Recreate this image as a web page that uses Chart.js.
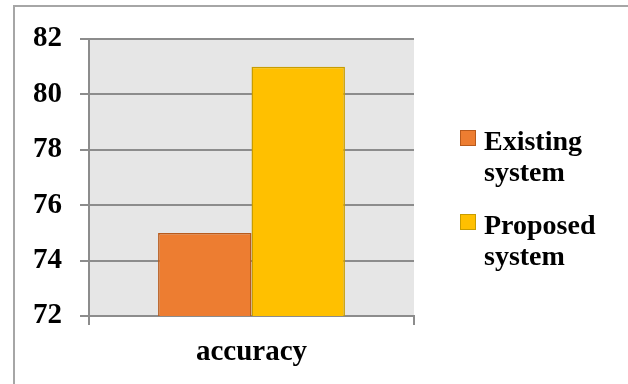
<!DOCTYPE html>
<html>
<head>
<meta charset="utf-8">
<script src="https://cdn.jsdelivr.net/npm/chart.js@4"></script>
<style>
  html, body { margin: 0; padding: 0; background: #ffffff; }
  #wrap { width: 628px; height: 384px; }
</style>
</head>
<body>
<div id="wrap"><canvas id="c" width="628" height="384"></canvas></div>
<script>
// Chart data
const categories = ['accuracy'];
const seriesNames = [['Existing', 'system'], ['Proposed', 'system']];
const existingValues = [75];
const proposedValues = [81];
const yTicks = [72, 74, 76, 78, 80, 82];

const FONT = "'Liberation Serif', 'Times New Roman', serif";
const GRID = '#8c8c8c';

// Frame and plot-area background
const backdrop = {
  id: 'backdrop',
  beforeDraw(chart) {
    const { ctx, chartArea: a } = chart;
    ctx.save();
    ctx.fillStyle = '#e6e6e6';
    ctx.fillRect(a.left, a.top, a.right - a.left, a.bottom - a.top);
    ctx.strokeStyle = '#a6a6a6';
    ctx.lineWidth = 2;
    ctx.beginPath();
    ctx.moveTo(14, chart.height + 2);
    ctx.lineTo(14, 6);
    ctx.lineTo(chart.width + 2, 6);
    ctx.stroke();
    ctx.restore();
  }
};

// Legend on the right with two-line labels
const sideLegend = {
  id: 'sideLegend',
  afterDraw(chart) {
    const { ctx } = chart;
    ctx.save();
    chart.data.datasets.forEach((ds, i) => {
      const top = 130 + i * 84;
      ctx.fillStyle = ds.backgroundColor;
      ctx.fillRect(460, top, 16, 16);
      ctx.strokeStyle = ds.borderColor;
      ctx.lineWidth = 1;
      ctx.strokeRect(460.5, top + 0.5, 15, 15);
      ctx.fillStyle = '#000000';
      ctx.font = 'bold 28px ' + FONT;
      ctx.textBaseline = 'alphabetic';
      ctx.textAlign = 'left';
      ds.label.forEach((line, j) => {
        ctx.fillText(line, 484, top + 20 + j * 31);
      });
    });
    ctx.restore();
  }
};

new Chart(document.getElementById('c'), {
  type: 'bar',
  data: {
    labels: categories,
    datasets: [
      {
        label: seriesNames[0],
        data: existingValues,
        backgroundColor: '#ed7d31',
        borderColor: '#b85a1c',
        borderWidth: 1.5
      },
      {
        label: seriesNames[1],
        data: proposedValues,
        backgroundColor: '#ffc000',
        borderColor: '#c89d00',
        borderWidth: 1.5
      }
    ]
  },
  options: {
    responsive: false,
    animation: false,
    devicePixelRatio: 1,
    layout: { padding: { left: 0, top: 39, right: 214, bottom: 0 } },
    datasets: { bar: { categoryPercentage: 0.575, barPercentage: 1 } },
    plugins: {
      legend: { display: false },
      tooltip: { enabled: false }
    },
    scales: {
      x: {
        grid: { display: true, drawOnChartArea: false, drawTicks: true, tickLength: 9, color: GRID, lineWidth: 2 },
        border: { display: true, color: GRID, width: 2 },
        ticks: { color: '#000000', font: { family: FONT, size: 29, weight: 'bold' }, padding: 10 },
        afterFit(s) { s.height = 68; }
      },
      y: {
        min: 72,
        max: 82,
        afterBuildTicks(s) { s.ticks = yTicks.map(v => ({ value: v })); },
        grid: { color: GRID, lineWidth: 2, tickLength: 9, drawTicks: true },
        border: { display: true, color: GRID, width: 2 },
        ticks: { color: '#000000', font: { family: FONT, size: 29, weight: 'bold' }, padding: 18 },
        afterFit(s) { s.width = 89; }
      }
    }
  },
  plugins: [backdrop, sideLegend]
});
</script>
</body>
</html>
